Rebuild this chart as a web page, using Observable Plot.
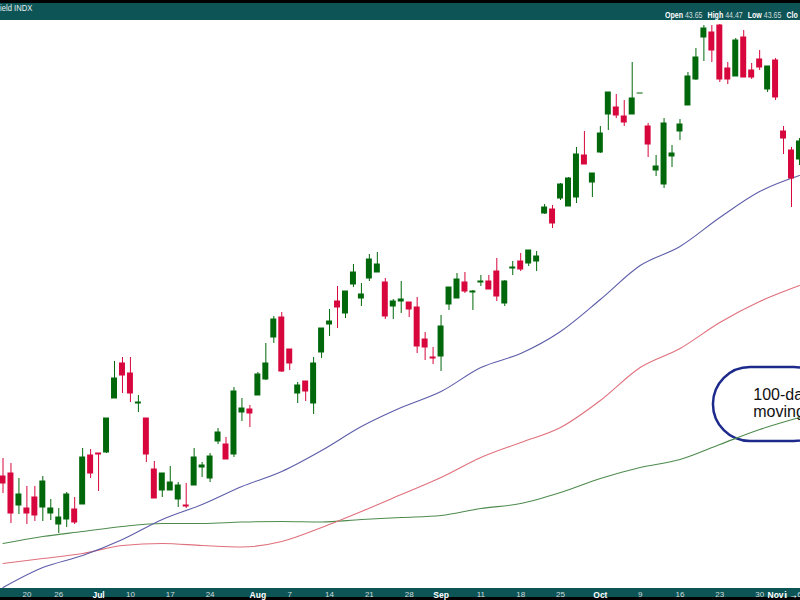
<!DOCTYPE html>
<html>
<head>
<meta charset="utf-8">
<script src="https://cdn.jsdelivr.net/npm/d3@7"></script>
<script src="https://cdn.jsdelivr.net/npm/@observablehq/plot@0.6"></script>
<style>
html, body { margin: 0; padding: 0; background: #fff; }
#wrap { width: 800px; height: 600px; position: relative; overflow: hidden; background: #fff; }
#hdr { height: 17px; border-top: 3px solid #000; background: #0d5456; position: relative;
       font-family: "Liberation Sans Narrow", "Liberation Sans", Arial, sans-serif; color: #fff; white-space: nowrap; }
#title { position: absolute; left: 0; top: 1px; font-size: 9px; line-height: 9px; color: #e6eeee;
         transform: scaleX(0.85); transform-origin: 0 0; }
#ohlc { position: absolute; left: 665px; top: 8px; font-size: 9px; line-height: 9px;
        transform: scaleX(0.78); transform-origin: 0 0; }
#ohlc b { color: #fff; font-weight: bold; }
#ohlc span { color: #cfdcdc; margin-right: 4px; }
#plot svg { display: block; }
</style>
</head>
<body>
<div id="wrap">
  <div id="hdr"><div id="title"></div><div id="ohlc"></div></div>
  <div id="plot"></div>
</div>
<script>
// ---------- data ----------
const titleText = "ield INDX";
const ohlcLabels = ["Open", "High", "Low", "Clo"];
const ohlcValues = ["43.65", "44.47", "43.65", ""];

const dates = [
  "2023-06-14","2023-06-15","2023-06-16","2023-06-20","2023-06-21","2023-06-22","2023-06-23","2023-06-26","2023-06-27","2023-06-28","2023-06-29","2023-06-30",
  "2023-07-03","2023-07-05","2023-07-06","2023-07-07","2023-07-10","2023-07-11","2023-07-12","2023-07-13","2023-07-14","2023-07-17","2023-07-18","2023-07-19","2023-07-20","2023-07-21","2023-07-24","2023-07-25","2023-07-26","2023-07-27","2023-07-28","2023-07-31",
  "2023-08-01","2023-08-02","2023-08-03","2023-08-04","2023-08-07","2023-08-08","2023-08-09","2023-08-10","2023-08-11","2023-08-14","2023-08-15","2023-08-16","2023-08-17","2023-08-18","2023-08-21","2023-08-22","2023-08-23","2023-08-24","2023-08-25","2023-08-28","2023-08-29","2023-08-30","2023-08-31",
  "2023-09-01","2023-09-05","2023-09-06","2023-09-07","2023-09-08","2023-09-11","2023-09-12","2023-09-13","2023-09-14","2023-09-15","2023-09-18","2023-09-19","2023-09-20","2023-09-21","2023-09-22","2023-09-25","2023-09-26","2023-09-27","2023-09-28","2023-09-29",
  "2023-10-02","2023-10-03","2023-10-04","2023-10-05","2023-10-06","2023-10-09","2023-10-10","2023-10-11","2023-10-12","2023-10-13","2023-10-16","2023-10-17","2023-10-18","2023-10-19","2023-10-20","2023-10-23","2023-10-24","2023-10-25","2023-10-26","2023-10-27","2023-10-30","2023-10-31",
  "2023-11-01","2023-11-02","2023-11-03","2023-11-06"
];

const open = [124,127,95,92,103,93,87,76,81,91,
  96,145,147,148,202,237,227,197,182,131,
  110,110,101,95,115,133,122,159,156,146,
  188,191,205,221,263,283,251,207,219,197,
  248,276,299,287,316,302,322,328,318,294,
  299,298,293,261,243,244,296,302,318,308,
  318,319,329,297,332,339,337,339,387,391,
  402,394,403,445,418,448,486,493,484,486,
  507,474,430,416,444,469,495,521,563,568,
  575,532,524,563,530,541,511,540,469,450,
  441];
const high = [142,137,122,114,114,124,101,92,108,103,
  152,151,147,182,239,243,243,205,182,139,
  127,134,118,117,152,138,147,172,163,213,
  202,195,228,257,284,288,251,218,219,243,
  272,291,314,309,336,317,346,348,322,301,
  319,298,303,268,253,285,313,327,328,310,
  325,325,342,320,339,347,350,349,396,395,
  417,423,453,469,427,474,508,506,500,538,
  507,477,445,482,455,481,528,552,575,575,
  576,538,562,570,537,550,534,542,474,453,
  462];
const low = [107,77,86,76,79,79,80,67,73,76,
  96,122,109,147,202,207,198,188,138,102,
  103,110,93,92,115,123,118,156,141,143,
  179,173,205,220,257,228,230,197,199,186,
  242,264,272,282,313,294,319,328,281,281,
  287,283,247,240,236,229,290,302,307,290,
  314,311,299,294,325,329,334,329,386,372,
  400,394,397,436,403,447,470,482,474,486,
  507,443,424,412,433,460,495,520,539,538,
  518,516,524,523,521,530,508,500,446,393,
  435];
const close = [117,87,106,87,85,119,92,83,106,78,
  143,127,146,182,222,225,207,198,146,102,
  127,118,115,94,143,135,144,168,141,209,
  192,187,226,237,281,229,237,215,209,237,
  272,279,293,309,328,306,341,336,284,299,
  301,291,254,253,242,274,313,321,309,309,
  319,311,304,319,333,331,350,344,393,377,
  416,422,446,436,427,467,508,485,478,502,
  507,456,434,477,447,476,524,543,572,550,
  521,521,560,523,523,533,534,503,462,422,
  459];

// moving averages, read every 5 trading days
const maIndex = [0,5,10,15,20,25,30,35,40,45,50,55,60,65,70,75,80,85,90,95,100];
const maFast = [13,33,45,61,81,96,114,129,150,174,193,209,233,247,269,301,335,354,383,409,425];
const maMid  = [37,42,47,55,57,55,53.5,59,73,89,106,123,143,158,173,200,233,252,278,299,315];
const maSlow = [57,64,69,74,77,77,78.5,79,78.5,81,83,85,92,97,108,122,133,141,156,171,183];

// x-axis ticks
const tickDates = ["2023-06-20","2023-06-26","2023-07-03","2023-07-10","2023-07-17","2023-07-24","2023-08-01","2023-08-07","2023-08-14","2023-08-21","2023-08-28","2023-09-01","2023-09-11","2023-09-18","2023-09-25","2023-10-02","2023-10-09","2023-10-16","2023-10-23","2023-10-30","2023-11-01","2023-11-06"];
const tickLabels = ["20","26","Jul","10","17","24","Aug","7","14","21","28","Sep","11","18","25","Oct","9","16","23","30","Nov","6"];
const monthLabels = ["Jul","Aug","Sep","Oct","Nov"];

const calloutText = "100-day\nmoving average";

// ---------- build ----------
document.getElementById("title").textContent = titleText;
document.getElementById("ohlc").innerHTML = ohlcLabels.map((l, k) =>
  `<b>${l}</b> <span>${ohlcValues[k]}</span>`).join(" ");

const candles = dates.map((d, i) => ({date: d, i, open: open[i], high: high[i], low: low[i], close: close[i]}));
const maRows = maIndex.map((k, j) => ({i: k, fast: maFast[j], mid: maMid[j], slow: maSlow[j]}));
const idxOf = new Map(dates.map((d, i) => [d, i]));
const labelOf = new Map(tickDates.map((d, k) => [idxOf.get(d), tickLabels[k]]));
const monthTicks = tickDates.filter((d, k) => monthLabels.includes(tickLabels[k])).map(d => idxOf.get(d));
const dayTicks = tickDates.filter((d, k) => !monthLabels.includes(tickLabels[k])).map(d => idxOf.get(d));

const UP = "#00680a", DOWN = "#d7063c";
const col = d => d.close >= d.open ? UP : DOWN;

const chart = Plot.plot({
  width: 800,
  height: 580,
  marginTop: 0, marginLeft: 0, marginRight: 0, marginBottom: 12,
  style: "background: linear-gradient(to bottom, #ffffff 0px, #ffffff 568px, #0d5456 568px, #0d5456 577px, #000000 577px, #000000 580px); overflow: hidden; font-family: 'Liberation Sans', Arial, sans-serif;",
  x: {type: "linear", domain: [-0.314, 100.13], axis: null},
  y: {type: "linear", domain: [12, 580], axis: null},
  marks: [
    Plot.rect([0], {x1: 89.2, x2: 104, y1: 159, y2: 233, rx: 37, ry: 37, fill: "white", stroke: "#1d2a8c", strokeWidth: 2.5}),
    Plot.line(maRows, {x: "i", y: "slow", stroke: "#4e8c4e", strokeWidth: 1.1, curve: "monotone-x"}),
    Plot.line(maRows, {x: "i", y: "mid", stroke: "#e0707c", strokeWidth: 1.1, curve: "monotone-x"}),
    Plot.line(maRows, {x: "i", y: "fast", stroke: "#5d5daa", strokeWidth: 1.1, curve: "monotone-x"}),
    Plot.ruleX(candles, {x: "i", y1: "low", y2: "high", stroke: col, strokeWidth: 1}),
    Plot.rect(candles, {
      x1: d => d.i - 0.375, x2: d => d.i + 0.375,
      y1: d => Math.min(d.open, d.close), y2: d => Math.max(d.open, d.close),
      fill: col, insetTop: -0.5, insetBottom: -0.5
    }),
    Plot.text([calloutText], {x: 94.2, y: 197.5, text: d => d, textAnchor: "start", lineAnchor: "middle", lineHeight: 1.1,
      fontSize: 16, fill: "#111", fontFamily: "'Liberation Sans', Arial, sans-serif"}),
    Plot.axisX(dayTicks, {tickSize: 0, tickPadding: 3, tickFormat: d => labelOf.get(d), fill: "#cfdcdc",
      fontSize: 8, fontFamily: "'Liberation Sans Narrow', 'Liberation Sans', Arial, sans-serif"}),
    Plot.axisX(monthTicks, {tickSize: 0, tickPadding: 3, tickFormat: d => labelOf.get(d), fill: "#ffffff",
      fontSize: 8.5, fontWeight: "bold", fontFamily: "'Liberation Sans', Arial, sans-serif"})
  ]
});
document.getElementById("plot").appendChild(chart);
</script>
</body>
</html>
